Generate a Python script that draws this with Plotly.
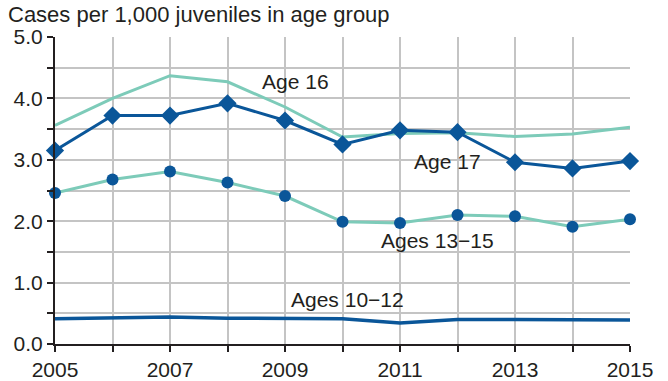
import plotly.graph_objects as go

years = [2005, 2006, 2007, 2008, 2009, 2010, 2011, 2012, 2013, 2014, 2015]
age16 = [3.56, 4.00, 4.37, 4.27, 3.86, 3.37, 3.43, 3.44, 3.38, 3.42, 3.53]
age17 = [3.15, 3.72, 3.72, 3.92, 3.64, 3.25, 3.48, 3.45, 2.96, 2.86, 2.98]
ages13_15 = [2.46, 2.68, 2.81, 2.63, 2.41, 1.99, 1.97, 2.10, 2.08, 1.91, 2.03]
ages10_12 = [0.41, 0.43, 0.44, 0.42, 0.42, 0.41, 0.34, 0.40, 0.40, 0.40, 0.39]

x_ticktext = ["2005", "", "2007", "", "2009", "", "2011", "", "2013", "", "2015"]
y_tickvals = [0, 0.5, 1, 1.5, 2, 2.5, 3, 3.5, 4, 4.5, 5]
y_ticktext = ["0.0", "", "1.0", "", "2.0", "", "3.0", "", "4.0", "", "5.0"]

labels = ["Age 16", "Age 17", "Ages 13\u221215", "Ages 10\u221212"]
label_x = [2009.18, 2011.83, 2011.66, 2010.09]
label_y = [4.27, 2.97, 1.69, 0.72]

DARK = "#0A5699"
TEAL = "#7DCBB9"
TXT = "#231F20"
FONT = "Liberation Sans, Arial, sans-serif"
FS = 21

fig = go.Figure()
fig.add_trace(go.Scatter(x=years, y=age16, mode="lines",
                         line=dict(color=TEAL, width=3), cliponaxis=False))
fig.add_trace(go.Scatter(x=years, y=ages13_15, mode="lines+markers",
                         line=dict(color=TEAL, width=3),
                         marker=dict(symbol="circle", size=12, color=DARK),
                         cliponaxis=False))
fig.add_trace(go.Scatter(x=years, y=ages10_12, mode="lines",
                         line=dict(color=DARK, width=3.5), cliponaxis=False))
fig.add_trace(go.Scatter(x=years, y=age17, mode="lines+markers",
                         line=dict(color=DARK, width=3),
                         marker=dict(symbol="diamond", size=14, color=DARK),
                         cliponaxis=False))

for t, lx, ly in zip(labels, label_x, label_y):
    fig.add_annotation(x=lx, y=ly, text=t, showarrow=False,
                       font=dict(size=FS, color=TXT, family=FONT),
                       xanchor="center", yanchor="middle")

fig.add_annotation(xref="paper", yref="paper", x=-0.086, y=1.072,
                   text="Cases per 1,000 juveniles in age group",
                   showarrow=False, xanchor="left", yanchor="middle",
                   font=dict(size=22, color=TXT, family=FONT))

fig.update_layout(
    width=668, height=381,
    margin=dict(l=54.5, r=38, t=37, b=37),
    paper_bgcolor="white", plot_bgcolor="white",
    showlegend=False,
    font=dict(family=FONT, size=FS, color=TXT),
)
fig.update_xaxes(range=[2005, 2015], tickvals=years, ticktext=x_ticktext,
                 showgrid=True, gridcolor="#C4C4C4", gridwidth=1.5,
                 showline=True, linecolor=TXT, linewidth=2,
                 ticks="outside", ticklen=6, tickcolor=TXT, tickwidth=1.5,
                 zeroline=False, automargin=False,
                 tickfont=dict(size=FS, color=TXT))
fig.update_yaxes(range=[0, 5], tickvals=y_tickvals, ticktext=y_ticktext,
                 showgrid=True, gridcolor="#C4C4C4", gridwidth=1.5,
                 showline=True, linecolor=TXT, linewidth=2,
                 ticks="outside", ticklen=6, tickcolor=TXT, tickwidth=1.5,
                 zeroline=False, automargin=False,
                 tickfont=dict(size=FS, color=TXT))

fig.write_html("out.html", config={"displayModeBar": False},
               post_script="document.body.style.margin='0';document.body.style.overflow='hidden';")
